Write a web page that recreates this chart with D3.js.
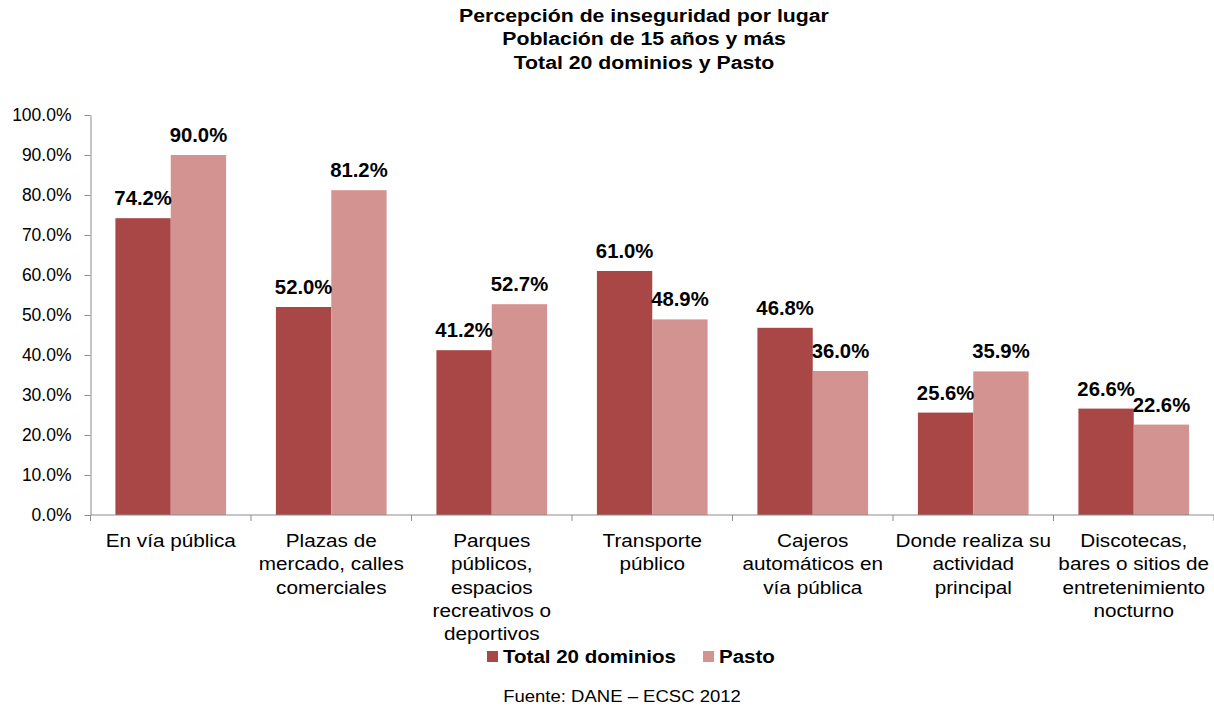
<!DOCTYPE html>
<html>

<head>
    <meta charset="UTF-8">
    <title>Percepción de inseguridad por lugar</title>
    <script src="https://d3js.org/d3.v7.min.js"></script>
    <style>
        body { margin: 0; background: #fff; }
        text { font-family: "Liberation Sans", Arial, sans-serif; fill: #000; }
    </style>
</head>

<body>
    <div id="chart"></div>
    <script>

        // data
        var categories = [
            "En vía pública",
            "Plazas de|mercado, calles|comerciales",
            "Parques|públicos,|espacios|recreativos o|deportivos",
            "Transporte|público",
            "Cajeros|automáticos en|vía pública",
            "Donde realiza su|actividad|principal",
            "Discotecas,|bares o sitios de|entretenimiento|nocturno"
        ]
        var seriesNames = ["Total 20 dominios", "Pasto"]
        var total20 = [0.742, 0.520, 0.412, 0.610, 0.468, 0.256, 0.266]
        var pasto = [0.900, 0.812, 0.527, 0.489, 0.360, 0.359, 0.226]
        var yTicks = [0, 0.1, 0.2, 0.3, 0.4, 0.5, 0.6, 0.7, 0.8, 0.9, 1.0]
        var titleLines = ["Percepción de inseguridad por lugar", "Población de 15 años y más", "Total 20 dominios y Pasto"]
        var source = "Fuente: DANE – ECSC 2012"

        var colors = { "Total 20 dominios": "#a84745", "Pasto": "#d39391" }

        var W = 1214, H = 708
        var margin = { top: 115, right: 0, bottom: 193, left: 90.5 }

        var svg = d3.select("#chart").append("svg")
            .attr("width", W)
            .attr("height", H)

        // text is a bit wider than its height in the picture, so stretch it
        function place(sel, x, y, sx) {
            sel.attr("transform", "translate(" + x + "," + y + ") scale(" + sx + ",1)")
        }

        // title
        var title = svg.append("text")
            .attr("text-anchor", "middle")
            .style("font-size", "18.5px")
            .style("font-weight", "bold")
        place(title, 644, 22, 1.15)
        title.selectAll("tspan")
            .data(titleLines)
            .enter().append("tspan")
            .attr("x", 0)
            .attr("dy", function (d, i) { return i == 0 ? 0 : 23.5 })
            .text(function (d) { return d })

        // scales
        var x0 = d3.scaleBand()
            .domain(categories)
            .range([margin.left, W - margin.right])
            .padding(0)

        var x1 = d3.scaleBand()
            .domain(seriesNames)
            .range([0, x0.bandwidth()])
            .paddingInner(0)
            .paddingOuter(0.45)

        var y = d3.scaleLinear()
            .domain([0, 1])
            .range([H - margin.bottom, margin.top])

        // y axis
        var yAxis = svg.append("g")
            .attr("transform", "translate(" + margin.left + ",0)")
            .call(d3.axisLeft(y).tickValues(yTicks).tickFormat(d3.format(".1%")).tickSize(6).tickPadding(13).tickSizeOuter(0))
        yAxis.select(".domain").attr("stroke", "#8c8c8c")
        yAxis.selectAll(".tick line").attr("stroke", "#8c8c8c")
        yAxis.selectAll(".tick text")
            .style("font-size", "17.5px")
            .style("font-family", "'Liberation Sans', Arial, sans-serif")
            .attr("fill", "#000")

        // bars
        var rows = categories.map(function (c, i) {
            return { cat: c, values: [{ key: seriesNames[0], v: total20[i] }, { key: seriesNames[1], v: pasto[i] }] }
        })

        var groups = svg.selectAll(".grp")
            .data(rows)
            .enter().append("g")
            .attr("class", "grp")
            .attr("transform", function (d) { return "translate(" + x0(d.cat) + ",0)" })

        groups.selectAll("rect")
            .data(function (d) { return d.values })
            .enter().append("rect")
            .attr("x", function (d) { return x1(d.key) })
            .attr("y", function (d) { return y(d.v) })
            .attr("width", x1.bandwidth())
            .attr("height", function (d) { return y(0) - y(d.v) })
            .attr("fill", function (d) { return colors[d.key] })

        // value labels
        groups.selectAll(".val")
            .data(function (d) { return d.values })
            .enter().append("text")
            .attr("class", "val")
            .attr("text-anchor", "middle")
            .style("font-size", "19.5px")
            .style("font-weight", "bold")
            .each(function (d) {
                place(d3.select(this), x1(d.key) + x1.bandwidth() / 2, y(d.v) - 13, 1.04)
            })
            .text(function (d) { return d3.format(".1%")(d.v) })

        // x axis line and ticks at category boundaries
        var baseY = y(0)
        svg.append("line")
            .attr("x1", margin.left).attr("x2", W - margin.right)
            .attr("y1", baseY).attr("y2", baseY)
            .attr("stroke", "#8c8c8c")
        var bounds = categories.map(function (c) { return x0(c) }).concat([x0.range()[1]])
        svg.selectAll(".xtick")
            .data(bounds)
            .enter().append("line")
            .attr("class", "xtick")
            .attr("x1", function (d) { return d }).attr("x2", function (d) { return d })
            .attr("y1", baseY).attr("y2", baseY + 6)
            .attr("stroke", "#8c8c8c")

        // category labels
        svg.selectAll(".cat")
            .data(categories)
            .enter().append("text")
            .attr("class", "cat")
            .attr("text-anchor", "middle")
            .style("font-size", "18.5px")
            .each(function (d) {
                var t = d3.select(this)
                place(t, x0(d) + x0.bandwidth() / 2, baseY + 32, 1.12)
                t.selectAll("tspan")
                    .data(d.split("|"))
                    .enter().append("tspan")
                    .attr("x", 0)
                    .attr("dy", function (s, i) { return i == 0 ? 0 : 23.3 })
                    .text(function (s) { return s })
            })

        // legend
        var legend = svg.append("g")
        var legX = [487, 703]
        seriesNames.forEach(function (s, i) {
            legend.append("rect")
                .attr("x", legX[i]).attr("y", 651)
                .attr("width", 11).attr("height", 11)
                .attr("fill", colors[s])
            var t = legend.append("text")
                .style("font-size", "18.5px")
                .style("font-weight", "bold")
                .text(s)
            place(t, legX[i] + 16, 663, 1.11)
        })

        // source
        var src = svg.append("text")
            .attr("text-anchor", "middle")
            .style("font-size", "17px")
            .text(source)
        place(src, 622, 702, 1.09)

    </script>
</body>

</html>
